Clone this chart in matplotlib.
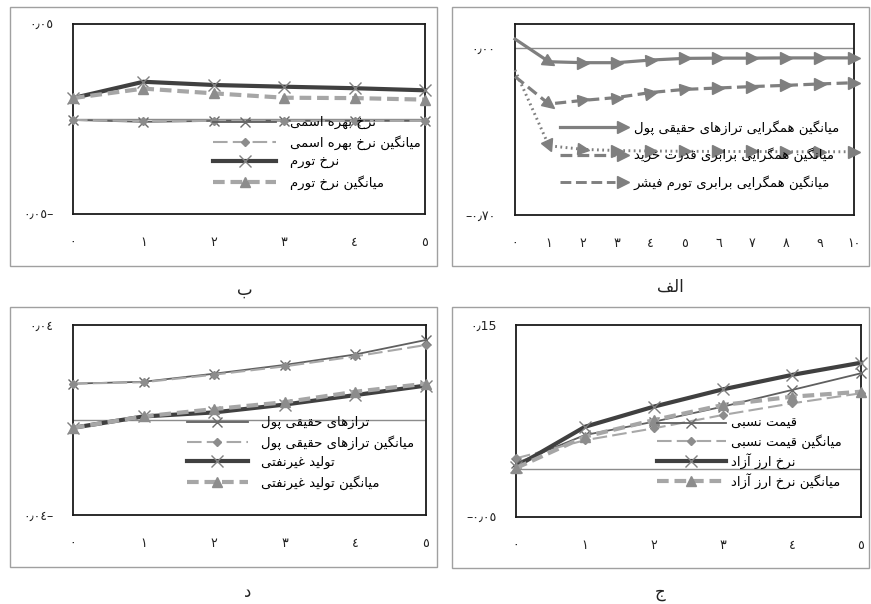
import numpy as np
import matplotlib
matplotlib.use("Agg")
import matplotlib.pyplot as plt
from matplotlib.lines import Line2D
from matplotlib.markers import MarkerStyle
from matplotlib.transforms import Affine2D
from matplotlib.patches import Rectangle
from matplotlib.legend_handler import HandlerBase

plt.rcParams['font.family'] = ['DejaVu Sans']

# ---------------- data ----------------
# panel الف (convergence averages, horizon 0..10)
x_alef = [0, 1, 2, 3, 4, 5, 6, 7, 8, 9, 10]
alef_money = [0.037, -0.058, -0.062, -0.062, -0.051, -0.044, -0.043, -0.043, -0.042, -0.042, -0.042]
alef_ppp = [-0.120, -0.235, -0.220, -0.208, -0.187, -0.174, -0.168, -0.162, -0.157, -0.151, -0.146]
alef_fisher = [-0.093, -0.410, -0.425, -0.430, -0.432, -0.433, -0.434, -0.434, -0.435, -0.435, -0.435]
alef_labels = ["میانگین همگرایی ترازهای حقیقی پول",
               "میانگین همگرایی برابری قدرت خرید",
               "میانگین همگرایی برابری تورم فیشر"]

# panel ب
x_short = [0, 1, 2, 3, 4, 5]
be_nominal = [-0.0005, -0.0015, -0.0010, -0.0010, -0.0010, -0.0010]
be_nominal_mean = [-0.0005, -0.0012, -0.0010, -0.0010, -0.0010, -0.0010]
be_infl = [0.0110, 0.0196, 0.0179, 0.0170, 0.0162, 0.0151]
be_infl_mean = [0.0110, 0.0160, 0.0135, 0.0112, 0.0110, 0.0102]
be_labels = ["نرخ بهره اسمی", "میانگین نرخ بهره اسمی", "نرخ تورم", "میانگین نرخ تورم"]

# panel ج
jim_relprice = [0.0060, 0.0354, 0.0493, 0.0650, 0.0823, 0.0997]
jim_relprice_mean = [0.0111, 0.0300, 0.0424, 0.0563, 0.0684, 0.0789]
jim_fx = [0.0024, 0.0440, 0.0650, 0.0830, 0.0980, 0.1107]
jim_fx_mean = [0.0010, 0.0337, 0.0510, 0.0667, 0.0753, 0.0805]
jim_labels = ["قیمت نسبی", "میانگین قیمت نسبی", "نرخ ارز آزاد", "میانگین نرخ ارز آزاد"]

# panel د
dal_money = [0.0153, 0.0161, 0.0195, 0.0232, 0.0276, 0.0337]
dal_money_mean = [0.0153, 0.0159, 0.0191, 0.0226, 0.0268, 0.0316]
dal_output = [-0.0033, 0.0015, 0.0032, 0.0065, 0.0105, 0.0145]
dal_output_mean = [-0.0033, 0.0015, 0.0046, 0.0075, 0.0119, 0.0153]
dal_labels = ["ترازهای حقیقی پول", "میانگین ترازهای حقیقی پول", "تولید غیرنفتی", "میانگین تولید غیرنفتی"]

xt_alef = ["٠", "١", "٢", "٣", "٤", "٥", "٦", "٧", "٨", "٩", "١٠"]
xt_short = ["٠", "١", "٢", "٣", "٤", "٥"]
yt_alef = ["–٠٫٧٠", "٠٫٠٠"]
yt_be = ["٠٫٠٥–", "٠٫٠٥"]
yt_jim = ["–٠٫٠٥", "٠٫15"]
yt_dal = ["٠٫٠٤–", "٠٫٠٤"]
captions = ["الف", "ب", "ج", "د"]

# ---------------- Persian shaping (presentation forms, visual order) ----------------
FORMS = {
    'ا': ('\uFE8D', '\uFE8E'), 'آ': ('\uFE81', '\uFE82'),
    'ب': ('\uFE8F', '\uFE90', '\uFE91', '\uFE92'), 'پ': ('\uFB56', '\uFB57', '\uFB58', '\uFB59'),
    'ت': ('\uFE95', '\uFE96', '\uFE97', '\uFE98'), 'ج': ('\uFE9D', '\uFE9E', '\uFE9F', '\uFEA0'),
    'ح': ('\uFEA1', '\uFEA2', '\uFEA3', '\uFEA4'), 'خ': ('\uFEA5', '\uFEA6', '\uFEA7', '\uFEA8'),
    'د': ('\uFEA9', '\uFEAA'), 'ر': ('\uFEAD', '\uFEAE'), 'ز': ('\uFEAF', '\uFEB0'),
    'س': ('\uFEB1', '\uFEB2', '\uFEB3', '\uFEB4'), 'ش': ('\uFEB5', '\uFEB6', '\uFEB7', '\uFEB8'),
    'غ': ('\uFECD', '\uFECE', '\uFECF', '\uFED0'), 'ف': ('\uFED1', '\uFED2', '\uFED3', '\uFED4'),
    'ق': ('\uFED5', '\uFED6', '\uFED7', '\uFED8'), 'گ': ('\uFB92', '\uFB93', '\uFB94', '\uFB95'),
    'ل': ('\uFEDD', '\uFEDE', '\uFEDF', '\uFEE0'), 'م': ('\uFEE1', '\uFEE2', '\uFEE3', '\uFEE4'),
    'ن': ('\uFEE5', '\uFEE6', '\uFEE7', '\uFEE8'), 'ه': ('\uFEE9', '\uFEEA', '\uFEEB', '\uFEEC'),
    'و': ('\uFEED', '\uFEEE'), 'ی': ('\uFBFC', '\uFBFD', '\uFBFE', '\uFBFF'),
}


def fa(text):
    chars = list(text)
    out = []
    for i, c in enumerate(chars):
        if c not in FORMS:
            out.append(c)
            continue
        prev = chars[i - 1] if i > 0 else None
        nxt = chars[i + 1] if i + 1 < len(chars) else None
        jp = prev is not None and prev in FORMS and len(FORMS[prev]) == 4
        jn = len(FORMS[c]) == 4 and nxt is not None and nxt in FORMS
        f = FORMS[c]
        if jp and jn:
            out.append(f[3])
        elif jp:
            out.append(f[1])
        elif jn:
            out.append(f[2])
        else:
            out.append(f[0])
    return ''.join(reversed(out))


# ---------------- styles ----------------
S_REAL = dict(color='#5f5f5f', lw=1.3, ls='-', marker='x', ms=7, mew=1.0, mec='#6a6a6a')
S_REAL_MEAN = dict(color='#a8a8a8', lw=1.5, ls=(0, (7, 2.5)), marker='D', ms=4.5, mfc='#8c8c8c', mec='#8c8c8c')
S_THICK = dict(color='#404040', lw=3.0, ls='-', marker='x', ms=8, mew=1.0, mec='#808080')
S_THICK_MEAN = dict(color='#a6a6a6', lw=3.0, ls=(0, (2.8, 1.4)), marker='^', ms=6.5, mfc='#8c8c8c', mec='#8c8c8c')

W, H = 871, 604
fig = plt.figure(figsize=(W / 100, H / 100), dpi=100)


def px_axes(x0, y0, x1, y1):
    return fig.add_axes([x0 / W, 1 - y1 / H, (x1 - x0) / W, (y1 - y0) / H])


def outer_box(x0, y0, x1, y1):
    fig.patches.append(Rectangle((x0 / W, 1 - y1 / H), (x1 - x0) / W, (y1 - y0) / H,
                                 transform=fig.transFigure, fill=False, ec='#a0a0a0', lw=1.0))


def style_axes(ax, xt, xtl, ylim, yt, ytl):
    ax.set_xlim(xt[0], xt[-1])
    ax.set_ylim(*ylim)
    ax.set_xticks(xt)
    ax.set_xticklabels(xtl)
    ax.set_yticks(yt)
    ax.set_yticklabels(ytl)
    ax.tick_params(axis='x', length=0, pad=16, labelsize=9, colors='#222222')
    ax.tick_params(axis='y', length=0, pad=14, labelsize=9, colors='#222222')
    for s in ax.spines.values():
        s.set_color('#1a1a1a')
        s.set_linewidth(1.3)
    ax.axhline(0, color='#8c8c8c', lw=1.0, zorder=1)


# outer chart boxes
outer_box(10, 7, 437, 266)
outer_box(452, 7, 869, 266)
outer_box(10, 307, 437, 567)
outer_box(452, 307, 869, 568)

# ---------------- panel ب ----------------
ax_b = px_axes(73, 24, 425, 214)
style_axes(ax_b, x_short, xt_short, (-0.05, 0.05), [-0.05, 0.05], yt_be)
hb = []
for vals, st, lab in zip([be_nominal, be_nominal_mean, be_infl, be_infl_mean],
                         [S_REAL, S_REAL_MEAN, S_THICK, S_THICK_MEAN], be_labels):
    l, = ax_b.plot(x_short, vals, clip_on=False, zorder=3, label=fa(lab), **st)
    hb.append(l)
ax_b.legend(handles=hb, loc='center left', bbox_to_anchor=(0.398, 0.321), frameon=False,
            fontsize=9.5, handlelength=4.8, handletextpad=1.0, labelspacing=0.45,
            borderpad=0, borderaxespad=0, numpoints=1)

# ---------------- panel الف ----------------
ax_a = px_axes(515, 24, 854, 215)
style_axes(ax_a, x_alef, xt_alef, (-0.7, 0.1), [-0.7, 0.0], yt_alef)
A_COLOR = '#7f7f7f'
A_STYLES = [dict(ls='-', lw=2.3), dict(ls=(0, (3.5, 1.7)), lw=2.3), dict(ls=(0, (0.6, 1.2)), lw=2.1)]
series_a = [alef_money, alef_ppp, alef_fisher]
ha = []
for vals, st, lab in zip(series_a, A_STYLES, alef_labels):
    l, = ax_a.plot(x_alef, vals, color=A_COLOR, clip_on=False, zorder=3, label=fa(lab), **st)
    ha.append(l)
# arrow-head markers oriented along each segment
for vals in series_a:
    pts = ax_a.transData.transform(np.column_stack([x_alef, vals]))
    for i in range(1, len(x_alef)):
        d = pts[i] - pts[i - 1]
        ang = np.degrees(np.arctan2(d[1], d[0]))
        ms = MarkerStyle('>', transform=Affine2D().rotate_deg(ang))
        ax_a.plot([x_alef[i]], [vals[i]], marker=ms, ms=8.5, color=A_COLOR, ls='none',
                  clip_on=False, zorder=4)


class EndArrowHandler(HandlerBase):
    def create_artists(self, legend, orig_handle, xdescent, ydescent, width, height, fontsize, trans):
        y = height / 2 - ydescent
        ln = Line2D([-xdescent, -xdescent + width * 0.78], [y, y], color=orig_handle.get_color(),
                    lw=orig_handle.get_linewidth(), ls=orig_handle.get_linestyle())
        mk = Line2D([-xdescent + width * 0.9], [y], marker='>', ms=8.5, color=orig_handle.get_color(),
                    ls='none')
        ln.set_transform(trans)
        mk.set_transform(trans)
        return [ln, mk]


ax_a.legend(handles=ha, loc='center left', bbox_to_anchor=(0.133, 0.314), frameon=False,
            fontsize=9.5, handlelength=5.3, handletextpad=0.3, labelspacing=0.95,
            borderpad=0, borderaxespad=0, handler_map={Line2D: EndArrowHandler()})

# ---------------- panel د ----------------
ax_d = px_axes(73, 325, 426, 515)
style_axes(ax_d, x_short, xt_short, (-0.04, 0.04), [-0.04, 0.04], yt_dal)
hd = []
for vals, st, lab in zip([dal_money, dal_money_mean, dal_output, dal_output_mean],
                         [S_REAL, S_REAL_MEAN, S_THICK, S_THICK_MEAN], dal_labels):
    l, = ax_d.plot(x_short, vals, clip_on=False, zorder=3, label=fa(lab), **st)
    hd.append(l)
ax_d.legend(handles=hd, loc='center left', bbox_to_anchor=(0.323, 0.326), frameon=False,
            fontsize=9.5, handlelength=4.6, handletextpad=1.0, labelspacing=0.45,
            borderpad=0, borderaxespad=0, numpoints=1)

# ---------------- panel ج ----------------
ax_j = px_axes(516, 325, 861, 517)
style_axes(ax_j, x_short, xt_short, (-0.05, 0.15), [-0.05, 0.15], yt_jim)
hj = []
for vals, st, lab in zip([jim_relprice, jim_relprice_mean, jim_fx, jim_fx_mean],
                         [S_REAL, S_REAL_MEAN, S_THICK, S_THICK_MEAN], jim_labels):
    l, = ax_j.plot(x_short, vals, clip_on=False, zorder=3, label=fa(lab), **st)
    hj.append(l)
ax_j.legend(handles=hj, loc='center left', bbox_to_anchor=(0.409, 0.333), frameon=False,
            fontsize=9.5, handlelength=5.2, handletextpad=0.4, labelspacing=0.3,
            borderpad=0, borderaxespad=0, numpoints=1)

# ---------------- captions ----------------
for (cx, cy), cap in zip([(670, 287), (245, 290), (660, 592), (248, 592)], captions):
    fig.text(cx / W, 1 - cy / H, fa(cap), ha='center', va='center', fontsize=12, color='#222222')

fig.savefig('out.png', dpi=100)
